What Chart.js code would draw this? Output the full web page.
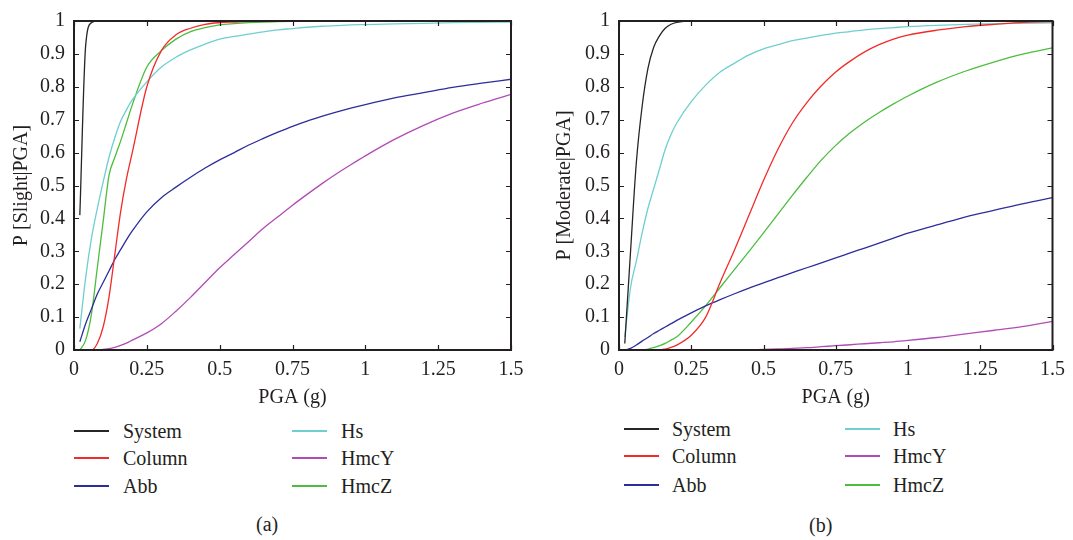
<!DOCTYPE html>
<html>
<head>
<meta charset="utf-8">
<script src="https://cdn.jsdelivr.net/npm/chart.js@4.4.0/dist/chart.umd.min.js"></script>
<style>
  body { margin: 0; background: #fff; width: 1073px; height: 540px; overflow: hidden; position: relative;
         font-family: "Liberation Serif", "Times New Roman", serif; color: #231f20; }
  canvas { position: absolute; top: 0; }
  #chartSlight { left: 0; }
  #chartModerate { left: 537px; }
  .lg-text { position: absolute; font-size: 20px; line-height: 20px; white-space: nowrap; }
  .lg-line { position: absolute; height: 1.5px; width: 35px; }
  .caption { position: absolute; font-size: 20px; line-height: 20px; }
</style>
</head>
<body>
<canvas id="chartSlight" width="537" height="410"></canvas>
<canvas id="chartModerate" width="536" height="410"></canvas>
<div id="legendSlight"></div>
<div id="legendModerate"></div>
<div class="caption" style="left:256px; top:514px;">(a)</div>
<div class="caption" style="left:809px; top:515px;">(b)</div>

<script>
// PGA sample points (g)
const pga = [0.02, 0.04, 0.06, 0.08, 0.10, 0.12, 0.14, 0.16, 0.18, 0.20,
             0.25, 0.30, 0.35, 0.40, 0.45, 0.50, 0.55, 0.60, 0.65, 0.70, 0.75, 0.80, 0.85, 0.90, 0.95, 1.00,
             1.10, 1.20, 1.30, 1.40, 1.50];

const seriesNames = ['System', 'Column', 'Abb', 'Hs', 'HmcY', 'HmcZ'];
const seriesColors = ['#262626', '#f22b2b', '#2d2d9c', '#6fcfcf', '#b04cb6', '#4cbd3f'];

// Fragility curves, slight damage state
const slightSystem = [0.41, 0.925, 0.995, 1, 1, 1, 1, 1, 1, 1,
                      1, 1, 1, 1, 1, 1, 1, 1, 1, 1, 1, 1, 1, 1, 1, 1,
                      1, 1, 1, 1, 1];
const slightColumn = [0, 0, 0, 0.02, 0.07, 0.16, 0.29, 0.42, 0.52, 0.60,
                      0.80, 0.91, 0.958, 0.978, 0.99, 0.995, 0.997, 0.999, 1, 1, 1, 1, 1, 1, 1, 1,
                      1, 1, 1, 1, 1];
const slightAbb    = [0.025, 0.08, 0.125, 0.17, 0.205, 0.24, 0.275, 0.305, 0.335, 0.362,
                      0.42, 0.463, 0.495, 0.525, 0.553, 0.578, 0.60, 0.623, 0.643, 0.662, 0.68, 0.696, 0.71, 0.723, 0.735, 0.746,
                      0.766, 0.782, 0.798, 0.811, 0.823];
const slightHs     = [0.065, 0.22, 0.34, 0.43, 0.51, 0.585, 0.645, 0.695, 0.73, 0.76,
                      0.815, 0.86, 0.89, 0.912, 0.93, 0.945, 0.953, 0.96, 0.967, 0.973, 0.977, 0.981, 0.984, 0.986, 0.988, 0.989,
                      0.991, 0.993, 0.995, 0.996, 0.997];
const slightHmcY   = [0, 0, 0, 0, 0.002, 0.004, 0.008, 0.014, 0.021, 0.03,
                      0.052, 0.08, 0.118, 0.16, 0.205, 0.25, 0.29, 0.33, 0.37, 0.405, 0.44, 0.473, 0.505, 0.535, 0.563, 0.59,
                      0.64, 0.683, 0.72, 0.75, 0.777];
const slightHmcZ   = [0, 0.03, 0.11, 0.25, 0.39, 0.53, 0.585, 0.635, 0.69, 0.745,
                      0.86, 0.91, 0.945, 0.968, 0.98, 0.988, 0.992, 0.995, 0.997, 0.998, 0.999, 1, 1, 1, 1, 1,
                      1, 1, 1, 1, 1];

// Fragility curves, moderate damage state
const moderateSystem = [0.02, 0.30, 0.57, 0.74, 0.855, 0.92, 0.955, 0.978, 0.99, 0.996,
                        1, 1, 1, 1, 1, 1, 1, 1, 1, 1, 1, 1, 1, 1, 1, 1,
                        1, 1, 1, 1, 1];
const moderateColumn = [0, 0, 0, 0, 0, 0, 0, 0.003, 0.008, 0.015,
                        0.045, 0.10, 0.205, 0.305, 0.41, 0.515, 0.61, 0.69, 0.752, 0.803, 0.845, 0.878, 0.906, 0.928, 0.945, 0.957,
                        0.972, 0.983, 0.99, 0.996, 0.998];
const moderateAbb    = [0, 0.005, 0.015, 0.027, 0.038, 0.05, 0.06, 0.07, 0.08, 0.09,
                        0.113, 0.134, 0.153, 0.171, 0.188, 0.204, 0.22, 0.235, 0.25, 0.265, 0.28, 0.295, 0.31, 0.325, 0.34, 0.355,
                        0.38, 0.405, 0.425, 0.445, 0.463];
const moderateHs     = [0.04, 0.19, 0.27, 0.355, 0.43, 0.49, 0.55, 0.61, 0.655, 0.69,
                        0.755, 0.805, 0.845, 0.872, 0.897, 0.915, 0.928, 0.94, 0.948, 0.956, 0.963, 0.968, 0.973, 0.977, 0.98, 0.983,
                        0.987, 0.99, 0.992, 0.993, 0.994];
const moderateHmcY   = [0, 0, 0, 0, 0, 0, 0, 0, 0, 0,
                        0, 0, 0, 0, 0, 0.002, 0.003, 0.005, 0.007, 0.01, 0.013, 0.016, 0.019, 0.022, 0.025, 0.029,
                        0.038, 0.049, 0.06, 0.072, 0.087];
const moderateHmcZ   = [0, 0, 0, 0, 0.003, 0.007, 0.013, 0.02, 0.03, 0.04,
                        0.085, 0.135, 0.19, 0.245, 0.30, 0.356, 0.413, 0.47, 0.525, 0.577, 0.622, 0.66, 0.693, 0.722, 0.748, 0.772,
                        0.814, 0.848, 0.876, 0.90, 0.918];

const xTickLabels = ['0', '0.25', '0.5', '0.75', '1', '1.25', '1.5'];
const yTickLabels = ['0', '0.1', '0.2', '0.3', '0.4', '0.5', '0.6', '0.7', '0.8', '0.9', '1'];

const ink = '#231f20';
const tickFont = { family: '"Liberation Serif", serif', size: 20 };
const titleFont = { family: '"Liberation Serif", serif', size: 20 };

// Boxed frame with inward tick marks on all four sides
const framePlugin = {
  id: 'boxFrame',
  afterDraw(chart) {
    const { ctx, chartArea: a, scales: { x, y } } = chart;
    ctx.save();
    ctx.strokeStyle = ink;
    ctx.lineWidth = 1.2;
    ctx.beginPath();
    x.ticks.forEach(t => {
      const px = Math.round(x.getPixelForValue(t.value)) + 0.5;
      ctx.moveTo(px, a.bottom); ctx.lineTo(px, a.bottom - 5);
      ctx.moveTo(px, a.top); ctx.lineTo(px, a.top + 5);
    });
    y.ticks.forEach(t => {
      const py = Math.round(y.getPixelForValue(t.value)) + 0.5;
      ctx.moveTo(a.left, py); ctx.lineTo(a.left + 5, py);
      ctx.moveTo(a.right, py); ctx.lineTo(a.right - 5, py);
    });
    ctx.stroke();
    ctx.lineWidth = 2;
    ctx.strokeRect(a.left, a.top, a.right - a.left, a.bottom - a.top);
    ctx.restore();
  }
};

function makeChart(canvasId, seriesList, yTitle, yAxisWidth, rightPad, yTitlePad) {
  const datasets = seriesList.map((vals, i) => ({
    label: seriesNames[i],
    data: pga.map((p, k) => ({ x: p, y: vals[k] })),
    borderColor: seriesColors[i],
    backgroundColor: seriesColors[i],
    borderWidth: 1.3,
    pointRadius: 0,
    cubicInterpolationMode: 'monotone',
    fill: false
  }));
  return new Chart(document.getElementById(canvasId), {
    type: 'line',
    data: { datasets },
    plugins: [framePlugin],
    options: {
      responsive: false,
      animation: false,
      devicePixelRatio: 1,
      layout: { padding: { left: 0, right: rightPad, top: 17, bottom: 0 } },
      plugins: { legend: { display: false }, tooltip: { enabled: false } },
      scales: {
        x: {
          type: 'linear', min: 0, max: 1.5,
          border: { display: false },
          grid: { display: false, drawTicks: false },
          ticks: { stepSize: 0.25, padding: 8, color: ink, font: tickFont, maxRotation: 0,
                   callback: (v, i) => xTickLabels[i] },
          title: { display: true, text: 'PGA (g)', color: ink, font: titleFont, padding: { top: 0, bottom: 0 } },
          afterFit: s => { s.height = 60; }
        },
        y: {
          type: 'linear', min: 0, max: 1,
          border: { display: false },
          grid: { display: false, drawTicks: false },
          ticks: { stepSize: 0.1, padding: 9, color: ink, font: tickFont,
                   callback: (v, i) => yTickLabels[i] },
          title: { display: true, text: yTitle, color: ink, font: titleFont, padding: { top: yTitlePad, bottom: 0 } },
          afterFit: s => { s.width = yAxisWidth; }
        }
      }
    }
  });
}

makeChart('chartSlight',
  [slightSystem, slightColumn, slightAbb, slightHs, slightHmcY, slightHmcZ],
  'P [Slight|PGA]', 74, 26, 10);
makeChart('chartModerate',
  [moderateSystem, moderateColumn, moderateAbb, moderateHs, moderateHmcY, moderateHmcZ],
  'P [Moderate|PGA]', 82, 17, 16);

// Two-column legends beneath each panel
function buildLegend(id, cols, rows) {
  const host = document.getElementById(id);
  seriesNames.forEach((name, i) => {
    const c = cols[Math.floor(i / 3)];
    const rowY = rows[i % 3];
    const line = document.createElement('div');
    line.className = 'lg-line';
    line.style.left = c.line + 'px';
    line.style.top = (rowY - 1) + 'px';
    line.style.backgroundColor = seriesColors[i];
    host.appendChild(line);
    const txt = document.createElement('div');
    txt.className = 'lg-text';
    txt.style.left = c.text + 'px';
    txt.style.top = (rowY - 10) + 'px';
    txt.textContent = name;
    host.appendChild(txt);
  });
}
buildLegend('legendSlight', [{ line: 74, text: 123 }, { line: 292, text: 341 }], [431, 458, 486]);
buildLegend('legendModerate', [{ line: 624, text: 672 }, { line: 845, text: 893 }], [429, 456, 485]);
</script>
</body>
</html>
